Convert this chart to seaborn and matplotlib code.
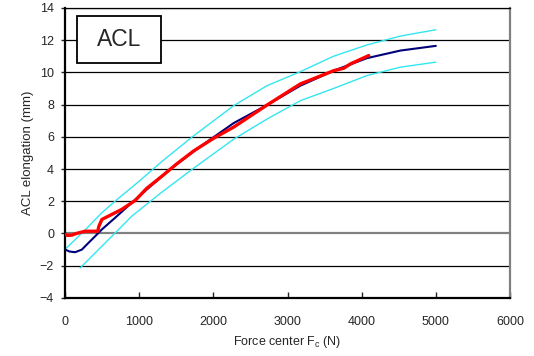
import matplotlib
matplotlib.use('Agg')
import matplotlib.pyplot as plt
from matplotlib.patches import Rectangle
import seaborn as sns
import pandas as pd

## Values
fit_force = [0, 60, 135, 225, 315, 405, 495, 675, 945, 1418, 1823, 2273, 2723, 3173, 3622, 4073, 4523, 5000]
fit_elong = [-1.0, -1.12, -1.16, -1.0, -0.58, -0.17, 0.25, 0.98, 2.1, 4.0, 5.4, 6.85, 7.97, 9.17, 10.1, 10.88, 11.35, 11.64]

upper_force = [0, 270, 495, 698, 1000, 1300, 1733, 2273, 2723, 3173, 3622, 4073, 4523, 5000]
upper_elong = [-0.98, 0.22, 1.29, 2.1, 3.25, 4.45, 6.06, 7.93, 9.17, 10.04, 11.0, 11.7, 12.25, 12.64]

lower_force = [202, 676, 900, 1300, 1733, 2273, 2723, 3173, 3622, 4073, 4523, 5000]
lower_elong = [-2.14, 0.04, 1.08, 2.55, 4.05, 5.85, 7.1, 8.24, 9.0, 9.8, 10.32, 10.63]

meas_force = [0, 30, 90, 150, 270, 440, 455, 470, 495, 585, 765, 945, 1100, 1283, 1500, 1733,
              2000, 2273, 2723, 3173, 3398, 3622, 3757, 3848, 4095]
meas_elong = [-0.05, -0.12, -0.1, 0.0, 0.14, 0.14, 0.45, 0.6, 0.87, 1.08, 1.5, 2.05, 2.8, 3.47,
              4.3, 5.12, 5.9, 6.6, 7.97, 9.28, 9.69, 10.1, 10.25, 10.52, 11.04]

sns.set_style('white')
plt.rcParams['font.family'] = ['Liberation Sans', 'DejaVu Sans']

fig = plt.figure(figsize=(5.34, 3.56), dpi=100)
ax = fig.add_axes([0.122, 0.163, 0.833, 0.815])

# horizontal grid lines
for yv in range(-2, 15, 2):
    if yv == 0:
        ax.axhline(yv, color='#808080', lw=1.6, zorder=1)
    else:
        ax.axhline(yv, color='black', lw=0.9, zorder=1)

df_up = pd.DataFrame({'F': upper_force, 'd': upper_elong})
df_lo = pd.DataFrame({'F': lower_force, 'd': lower_elong})
df_fit = pd.DataFrame({'F': fit_force, 'd': fit_elong})
df_meas = pd.DataFrame({'F': meas_force, 'd': meas_elong})

sns.lineplot(data=df_up, x='F', y='d', ax=ax, color='#33e6f0', lw=1.0, sort=False, estimator=None, zorder=2)
sns.lineplot(data=df_lo, x='F', y='d', ax=ax, color='#33e6f0', lw=1.0, sort=False, estimator=None, zorder=2)
sns.lineplot(data=df_fit, x='F', y='d', ax=ax, color='#00007a', lw=1.5, sort=False, estimator=None, zorder=3)
sns.lineplot(data=df_meas, x='F', y='d', ax=ax, color='#ff0000', lw=2.4, sort=False, estimator=None, zorder=4)

ax.set_xlim(0, 6000)
ax.set_ylim(-4, 14)
ax.set_xticks(range(0, 6001, 1000))
ax.set_yticks(range(-4, 15, 2))
ax.set_xlabel('Force center F$_\\mathregular{c}$ (N)', fontsize=9, labelpad=4)
ax.set_ylabel('ACL elongation (mm)', fontsize=9.5, labelpad=4.5)
ax.tick_params(axis='x', direction='in', length=4, width=1, pad=13, labelsize=9, bottom=True)
ax.tick_params(axis='y', direction='out', length=3, width=1, pad=5, labelsize=9, left=True)

for side in ['left', 'bottom']:
    ax.spines[side].set_color('black')
    ax.spines[side].set_linewidth(1.6)
ax.spines['top'].set_color('black')
ax.spines['top'].set_linewidth(0.9)
ax.spines['right'].set_color('#808080')
ax.spines['right'].set_linewidth(1.6)

# ACL label box
ax.add_patch(Rectangle((0.027, 0.81), 0.189, 0.162, transform=ax.transAxes,
                       facecolor='white', edgecolor='black', lw=1.3, zorder=5))
ax.text(0.1215, 0.891, 'ACL', transform=ax.transAxes, ha='center', va='center',
        fontsize=16.5, zorder=6)

fig.savefig('out.png', dpi=100)
